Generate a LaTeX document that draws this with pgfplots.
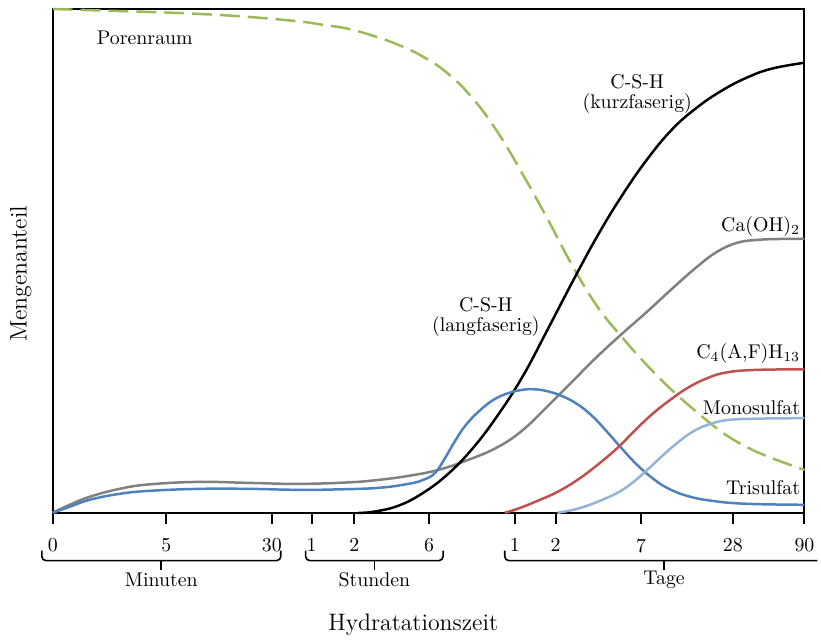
\documentclass[border=0pt]{standalone}
\usepackage{pgfplots}
\pgfplotsset{compat=1.18}
\definecolor{cgreen}{HTML}{9BBB59}
\definecolor{cblue}{HTML}{4F81BD}
\definecolor{cred}{HTML}{C0504D}
\definecolor{clblue}{HTML}{95B3D7}
\definecolor{cgray}{HTML}{808080}
\begin{document}
\begin{tikzpicture}
\begin{axis}[
  scale only axis, width=377.5bp, height=253bp,
  xmin=53, xmax=808, ymin=9, ymax=515, y dir=reverse,
  axis line style={line width=1bp},
  xtick={53,167,273,313,356,431,517,558,644,736,808},
  xticklabels={0,5,30,1,2,6,1,2,7,28,90},
  xticklabel style={yshift=-4bp},
  ytick=\empty,
  xtick pos=lower,
  tick align=outside,
  major tick length=5.5bp,
  tick style={line width=1bp, black},
  clip=false,
  every axis plot/.append style={line width=1.25bp, no markers, smooth, tension=0.7},
]
% Porenraum
\addplot[cgreen, dash pattern=on 10bp off 4bp] coordinates {
(53,9)(100,10.5)(150,12)(200,14)(250,17)(300,21.5)(325,25)(350,29)(375,36)(400,45)(425,57)(450,74)(475,99)(500,133)(525,175)(550,220)(575,267)(600,308)(625,339)(650,367)(675,392)(700,414)(725,434)(750,449)(775,460)(808,472)};
% Ca(OH)2
\addplot[cgray] coordinates {
(53,515)(70,507)(90,499)(120,491)(150,486.5)(200,484)(250,485)(300,486)(350,484.5)(380,482)(410,478)(440,472)(470,462)(500,449)(525,432)(550,408)(575,383)(600,358)(625,335)(650,313)(675,290)(700,268)(720,253)(740,244)(760,241)(785,240)(808,240)};
% C-S-H
\addplot[black] coordinates {
(360,515)(375,514)(400,508)(425,495)(450,476)(475,450)(500,417)(525,378)(550,331)(575,283)(600,237)(625,196)(650,160)(675,130)(700,108)(725,91)(750,78)(775,69)(808,63)};
% Trisulfat
\addplot[cblue] coordinates {
(53,515)(70,509)(90,502)(120,496)(150,493)(200,491)(250,491)(300,492)(340,491.5)(380,490)(410,486)(425,482)(437,475)(447,460)(457,443)(467,428)(480,414)(495,402)(510,395)(525,391.5)(537,391)(550,393)(565,398)(580,406)(595,418)(610,434)(625,451)(640,467)(655,480)(670,490)(690,498)(715,503)(750,506)(808,507)};
% C4(A,F)H13
\addplot[cred] coordinates {
(507,515)(520,511)(540,503)(560,494)(580,482)(600,467)(620,450)(640,430)(655,416)(670,404)(690,390)(710,380)(730,374)(760,371.5)(808,371)};
% Monosulfat
\addplot[clblue] coordinates {
(560,515)(580,511)(600,504)(620,495)(635,485)(650,472)(665,458)(680,445)(695,434)(710,427)(730,422)(760,420.5)(808,420)};

% curve labels
\node[anchor=west, inner sep=0pt] at (axis cs:97,38) {Porenraum};
\node[align=center] at (axis cs:640,94) {C-S-H\\[-2pt](kurzfaserig)};
\node[align=center] at (axis cs:488,318) {C-S-H\\[-2pt](langfaserig)};
\node[anchor=east, inner sep=1pt] at (axis cs:806,228) {Ca(OH)$_2$};
\node[anchor=east, inner sep=1pt] at (axis cs:806,355) {C$_4$(A,F)H$_{13}$};
\node[anchor=east, inner sep=1pt] at (axis cs:806,409) {Monosulfat};
\node[anchor=east, inner sep=1pt] at (axis cs:806,490) {Trisulfat};

% braces
\draw[line width=0.8bp, rounded corners=2bp] (axis cs:42,553) -- (axis cs:42,563) -- (axis cs:282,563) -- (axis cs:282,553);
\draw[line width=0.8bp] (axis cs:162,563) -- (axis cs:162,572);
\node at (axis cs:162,582) {Minuten};
\draw[line width=0.8bp, rounded corners=2bp] (axis cs:307,553) -- (axis cs:307,563) -- (axis cs:445,563) -- (axis cs:445,553);
\draw[line width=0.8bp] (axis cs:376,563) -- (axis cs:376,572);
\node at (axis cs:376,582) {Stunden};
\draw[line width=0.8bp, rounded corners=2bp] (axis cs:507,553) -- (axis cs:507,563) -- (axis cs:821,563);
\draw[line width=0.8bp] (axis cs:667,563) -- (axis cs:667,572);
\node at (axis cs:667,582) {Tage};

% axis titles
\node[rotate=90] at (axis cs:21,275) {\large Mengenanteil};
\node at (axis cs:415,627) {\large Hydratationszeit};

% bounding box
\path (axis cs:0,0) rectangle (axis cs:821,640);
\end{axis}
\end{tikzpicture}
\end{document}
